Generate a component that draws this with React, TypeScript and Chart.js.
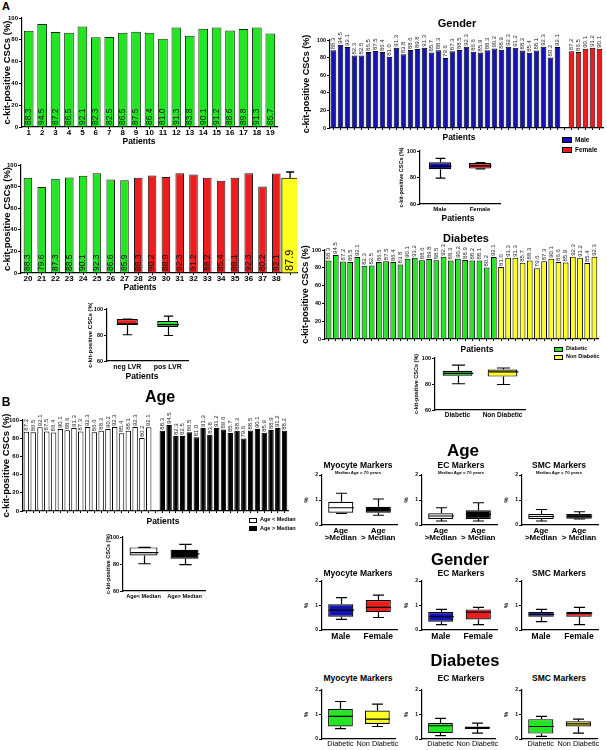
import React, { useEffect, useRef } from 'react';
import { Chart, registerables } from 'chart.js';

Chart.register(...registerables);

const FONT = "'Liberation Sans', Arial, Helvetica, sans-serif";

// ---------------- Panel A ----------------
const patientsA1 = ['1', '2', '3', '4', '5', '6', '7', '8', '9', '10', '11', '12', '13', '14', '15', '16', '17', '18', '19'];
const kitA1 = [88.3, 94.5, 87.2, 86.5, 92.1, 82.3, 82.5, 86.5, 87.5, 86.4, 81.0, 91.3, 83.8, 90.1, 91.2, 88.6, 89.8, 91.3, 85.7];
const patientsA2 = ['20', '21', '22', '23', '24', '25', '26', '27', '28', '29', '30', '31', '32', '33', '34', '35', '36', '37', '38', ''];
const kitA2 = [88.3, 79.6, 87.3, 88.5, 90.1, 92.3, 86.6, 85.9, 88.3, 90.2, 88.9, 92.3, 91.2, 88.2, 85.4, 88.1, 92.3, 80.2, 92.1];
const lvrA2 = ['pos', 'pos', 'pos', 'pos', 'pos', 'pos', 'pos', 'pos', 'neg', 'neg', 'neg', 'neg', 'neg', 'neg', 'neg', 'neg', 'neg', 'neg', 'neg'];
const kitMean = 87.9;
const kitMeanErr = 5.6;

const lvrCategories = ['neg LVR', 'pos LVR'];
const lvrNegBox = [80.2, 87.7, 88.5, 92.3, 92.3]; // min, q1, median, q3, max
const lvrPosBox = [79.6, 86.2, 88.0, 90.8, 94.5];

// ---------------- Gender ----------------
const maleKit = [88.3, 94.5, 92.1, 82.3, 82.5, 86.5, 87.5, 86.4, 81.0, 91.3, 83.8, 88.6, 89.8, 91.3, 85.7, 88.3, 79.6, 87.3, 88.5, 92.3, 86.6, 85.9, 88.3, 90.2, 88.9, 92.3, 91.2, 88.2, 85.4, 88.1, 92.3, 80.2, 92.1];
const femaleKit = [87.2, 86.5, 90.1, 91.2, 90.1];
const genderCategories = ['Male', 'Female'];
const maleBox = [79.6, 86.3, 88.6, 91.5, 94.5];
const femaleBox = [86.5, 86.7, 88.7, 91.0, 91.2];

// ---------------- Diabetes ----------------
const diabeticKit = [88.3, 94.5, 87.2, 86.5, 92.1, 82.3, 82.5, 86.5, 87.5, 86.4, 83.8, 90.1, 91.2, 88.6, 89.8, 88.5, 92.3, 88.3, 90.2, 88.9, 88.2, 88.1, 80.2, 92.1];
const nonDiabeticKit = [81.0, 91.3, 91.3, 85.7, 88.3, 79.6, 87.3, 90.1, 86.6, 85.9, 92.3, 91.2, 85.4, 92.3];
const diabetesCategories = ['Diabetic', 'Non Diabetic'];
const diabeticBox = [80.2, 86.4, 88.2, 90.1, 94.5];
const nonDiabeticBox = [79.6, 85.7, 89.4, 91.1, 92.3];

// ---------------- Age ----------------
const ageBelowKit = [87.2, 86.5, 92.1, 87.5, 86.4, 90.1, 88.6, 91.3, 87.3, 92.3, 86.6, 88.3, 90.2, 92.3, 85.4, 88.1, 92.3, 80.2, 92.1];
const ageAboveKit = [88.3, 94.5, 82.3, 82.5, 86.5, 81.0, 91.3, 83.8, 91.2, 89.6, 85.7, 88.3, 79.6, 88.5, 90.1, 85.9, 88.9, 91.2, 88.2];
const ageCategories = ['Age< Median', 'Age> Median'];
const ageBelowBox = [80.2, 86.3, 88.5, 92.3, 92.3];
const ageAboveBox = [79.6, 83.9, 87.5, 90.5, 94.5];

// ---------------- Marker box plots (min, q1, median, q3, max) ----------------
const markerAgeCats = [['Age', '>Median'], ['Age', '> Median']];
const ageMyoBelow = [0.46, 0.49, 0.69, 0.93, 1.27];
const ageMyoAbove = [0.39, 0.49, 0.6, 0.73, 1.04];
const ageEcBelow = [0.16, 0.24, 0.36, 0.47, 0.69];
const ageEcAbove = [0.16, 0.24, 0.42, 0.59, 0.89];
const ageSmcBelow = [0.16, 0.24, 0.34, 0.44, 0.62];
const ageSmcAbove = [0.24, 0.25, 0.35, 0.44, 0.53];

const markerGenderCats = ['Male', 'Female'];
const genMyoMale = [0.43, 0.54, 0.81, 1.05, 1.32];
const genMyoFemale = [0.51, 0.73, 0.92, 1.22, 1.42];
const genEcMale = [0.22, 0.34, 0.54, 0.73, 0.84];
const genEcFemale = [0.22, 0.43, 0.73, 0.84, 0.92];
const genSmcMale = [0.34, 0.54, 0.64, 0.73, 0.84];
const genSmcFemale = [0.22, 0.54, 0.68, 0.73, 0.92];

const markerDiabCats = ['Diabetic', 'Non Diabetic'];
const diaMyoYes = [0.42, 0.51, 0.92, 1.22, 1.53];
const diaMyoNo = [0.51, 0.61, 0.81, 1.16, 1.42];
const diaEcYes = [0.14, 0.24, 0.54, 0.65, 0.84];
const diaEcNo = [0.24, 0.41, 0.46, 0.51, 0.65];
const diaSmcYes = [0.11, 0.22, 0.51, 0.81, 0.92];
const diaSmcNo = [0.24, 0.51, 0.62, 0.72, 0.81];

// ---------------- colours ----------------
const GREEN = '#22e622';
const RED = '#ee1c1c';
const BLUE = '#1414b4';
const YELLOW = '#ffff22';
const WHITE = '#ffffff';
const BLACK = '#000000';

// ---------------- plugins ----------------
const valueLabelPlugin = {
  id: 'valueLabels',
  afterDatasetsDraw(chart: any) {
    const ctx = chart.ctx;
    chart.data.datasets.forEach((ds: any, di: number) => {
      const cfg = ds.valueLabel;
      if (!cfg) return;
      const meta = chart.getDatasetMeta(di);
      meta.data.forEach((el: any, i: number) => {
        const v = ds.data[i];
        if (v == null) return;
        const p = el.getProps(['x', 'y', 'base'], true);
        ctx.save();
        ctx.font = `${cfg.weight || 'normal'} ${cfg.size}px ${FONT}`;
        ctx.fillStyle = cfg.color || '#000';
        ctx.textAlign = 'left';
        ctx.textBaseline = 'middle';
        const y0 = cfg.mode === 'inside' ? p.base - cfg.offset : p.y - cfg.offset;
        ctx.translate(p.x, y0);
        ctx.rotate(-Math.PI / 2);
        ctx.fillText(Number(v).toFixed(1), 0, 0);
        ctx.restore();
      });
    });
  },
};

const errorBarPlugin = {
  id: 'errorBars',
  afterDatasetsDraw(chart: any) {
    const ctx = chart.ctx;
    const ys = chart.scales.y;
    chart.data.datasets.forEach((ds: any, di: number) => {
      if (!ds.errorPlus) return;
      const meta = chart.getDatasetMeta(di);
      meta.data.forEach((el: any, i: number) => {
        const v = ds.data[i];
        const e = ds.errorPlus[i];
        if (v == null || !e) return;
        const p = el.getProps(['x', 'y'], true);
        const yt = ys.getPixelForValue(v + e);
        ctx.save();
        ctx.strokeStyle = '#000';
        ctx.lineWidth = 1.3;
        ctx.beginPath();
        ctx.moveTo(p.x, p.y);
        ctx.lineTo(p.x, yt);
        ctx.moveTo(p.x - 4, yt);
        ctx.lineTo(p.x + 4, yt);
        ctx.stroke();
        ctx.restore();
      });
    });
  },
};

const boxPlugin = {
  id: 'boxWhiskers',
  afterDatasetsDraw(chart: any) {
    const ds = chart.data.datasets[0];
    const stats = ds.stats;
    const meta = chart.getDatasetMeta(0);
    const ys = chart.scales.y;
    const ctx = chart.ctx;
    ctx.save();
    ctx.strokeStyle = '#000';
    ctx.lineWidth = 1.2;
    meta.data.forEach((el: any, i: number) => {
      const s = stats[i];
      const p = el.getProps(['x', 'width'], true);
      const x = Math.round(p.x) + 0.5;
      const w = p.width;
      const cap = w * 0.22;
      const px = (v: number) => ys.getPixelForValue(v);
      ctx.beginPath();
      ctx.moveTo(x, px(s[3]));
      ctx.lineTo(x, px(s[4]));
      ctx.moveTo(x - cap, px(s[4]));
      ctx.lineTo(x + cap, px(s[4]));
      ctx.moveTo(x, px(s[1]));
      ctx.lineTo(x, px(s[0]));
      ctx.moveTo(x - cap, px(s[0]));
      ctx.lineTo(x + cap, px(s[0]));
      ctx.moveTo(x - w / 2, px(s[2]));
      ctx.lineTo(x + w / 2, px(s[2]));
      ctx.stroke();
    });
    ctx.restore();
  },
};

// ---------------- config builders ----------------
function yAxis(o: any) {
  return {
    min: o.min,
    max: o.max,
    ticks: { stepSize: o.step, font: { family: FONT, size: o.tickSize, weight: 'bold' }, color: '#000', padding: 1 },
    grid: { display: true, drawOnChartArea: false, drawTicks: true, tickLength: 3, color: '#000' },
    border: { display: true, color: '#000', width: 1.2 },
    title: {
      display: !!o.title,
      text: o.title,
      font: { family: FONT, size: o.titleSize, weight: 'bold', lineHeight: 1.2 },
      color: '#000',
      padding: { top: o.titlePad, bottom: 0 },
    },
    afterFit: (s: any) => {
      s.width = o.yW;
    },
  };
}

function barChart(o: any) {
  return {
    type: 'bar',
    data: { labels: o.labels, datasets: o.datasets },
    options: {
      responsive: false,
      animation: false,
      layout: { padding: { top: o.padTop, right: o.padRight, left: 0, bottom: 0 } },
      plugins: { legend: { display: false }, tooltip: { enabled: false }, title: { display: false } },
      scales: {
        x: {
          grid: { display: true, drawOnChartArea: false, drawTicks: true, tickLength: 2, color: '#000', offset: false },
          border: { display: true, color: '#000', width: 1.2 },
          ticks: o.xTickSize
            ? { display: true, font: { family: FONT, size: o.xTickSize, weight: 'bold', lineHeight: 1 }, color: '#000', padding: 0, maxRotation: 0, autoSkip: false }
            : { display: false },
          afterFit: (s: any) => {
            s.height = o.xH;
          },
        },
        y: yAxis({ min: 0, max: 100, step: 20, ...o.y }),
      },
    },
    plugins: [valueLabelPlugin, errorBarPlugin],
  };
}

function boxChart(o: any) {
  return {
    type: 'bar',
    data: {
      labels: o.labels,
      datasets: [
        {
          data: o.stats.map((s: number[]) => [s[1], s[3]]),
          stats: o.stats,
          backgroundColor: o.colors,
          borderColor: '#000',
          borderWidth: 1.2,
          borderSkipped: false,
          barPercentage: o.barPct,
          categoryPercentage: 1,
        },
      ],
    },
    options: {
      responsive: false,
      animation: false,
      layout: { padding: { top: o.padTop, right: o.padRight, left: 0, bottom: 0 } },
      plugins: { legend: { display: false }, tooltip: { enabled: false }, title: { display: false } },
      scales: {
        x: {
          grid: { display: false, drawTicks: false, tickLength: 0 },
          border: { display: true, color: '#000', width: 1.2 },
          ticks: {
            font: { family: FONT, size: o.xSize, weight: o.xWeight || 'bold', lineHeight: o.xLine || 1.2 },
            color: '#000',
            padding: o.xPad,
            maxRotation: 0,
            autoSkip: false,
          },
          afterFit: (s: any) => {
            s.height = o.xH;
          },
        },
        y: yAxis(o.y),
      },
    },
    plugins: [boxPlugin],
  };
}

const nulls = (a: any[]) => a.map(() => null);

// ---------------- chart list ----------------
type Spec = { rect: number[]; make: () => any };

function markerSpec(col: number, row: number, stats: number[][], colors: string[]): Spec {
  const x0 = [322, 422, 522][col];
  const pw = [75, 75, 76][col];
  const rows = [
    { top: 469, ph: 50, xH: 18, labels: markerAgeCats, xSize: 8, xLine: 0.9, xPad: 2, xWeight: 'bold' },
    { top: 575, ph: 49, xH: 12, labels: markerGenderCats, xSize: 8.5, xLine: 1.2, xPad: 2, xWeight: 'bold' },
    { top: 684, ph: 49, xH: 10, labels: markerDiabCats, xSize: 7.3, xLine: 1.1, xPad: 1, xWeight: 'normal' },
  ];
  const r = rows[row];
  const yW = 19;
  return {
    rect: [x0 - yW, r.top, pw + yW + 3, r.ph + 6 + r.xH],
    make: () =>
      boxChart({
        labels: r.labels,
        stats,
        colors,
        barPct: 0.67,
        padTop: 6,
        padRight: 3,
        xH: r.xH,
        xSize: r.xSize,
        xLine: r.xLine,
        xPad: r.xPad,
        xWeight: r.xWeight,
        y: { min: 0, max: 2, step: 1, yW, tickSize: 5, title: '%', titleSize: 6, titlePad: 0 },
      }),
  };
}

const specs: Spec[] = [
  // A1
  {
    rect: [0, 12, 280, 129],
    make: () =>
      barChart({
        labels: patientsA1,
        datasets: [
          {
            data: kitA1,
            backgroundColor: GREEN,
            borderColor: '#0a300a',
            borderWidth: 1,
            barPercentage: 0.72,
            categoryPercentage: 1,
            valueLabel: { mode: 'inside', size: 8.5, offset: 1.5, color: '#071f07' },
          },
        ],
        padTop: 6,
        padRight: 3,
        xH: 14,
        xTickSize: 8,
        y: { yW: 22, tickSize: 6, title: 'c-kit-positive CSCs (%)', titleSize: 9.5, titlePad: 2 },
      }),
  },
  // A2
  {
    rect: [0, 159, 300, 128],
    make: () =>
      barChart({
        labels: patientsA2,
        datasets: [
          {
            data: [...kitA2, null],
            backgroundColor: lvrA2.map((g) => (g === 'pos' ? GREEN : RED)),
            borderColor: '#1a1a1a',
            borderWidth: 1,
            barPercentage: 0.62,
            categoryPercentage: 1,
            grouped: false,
            valueLabel: { mode: 'inside', size: 8.5, offset: 1.5, color: '#0a0a0a' },
          },
          {
            data: [...nulls(kitA2), kitMean],
            backgroundColor: YELLOW,
            borderColor: '#1a1a1a',
            borderWidth: 1,
            barThickness: 17,
            grouped: false,
            errorPlus: [...nulls(kitA2), kitMeanErr],
            valueLabel: { mode: 'inside', size: 11, offset: 1.5, color: '#000' },
          },
        ],
        padTop: 6,
        padRight: 3,
        xH: 14,
        xTickSize: 8,
        y: { yW: 21, tickSize: 6, title: 'c-kit-positive CSCs (%)', titleSize: 9.5, titlePad: 2 },
      }),
  },
  // LVR box
  {
    rect: [87, 303, 104, 70],
    make: () =>
      boxChart({
        labels: lvrCategories,
        stats: [lvrNegBox, lvrPosBox],
        colors: [RED, GREEN],
        barPct: 0.52,
        padTop: 6,
        padRight: 3,
        xH: 12,
        xSize: 7,
        xPad: 2,
        y: { min: 60, max: 100, step: 20, yW: 20, tickSize: 5.5, title: 'c-kit-positive CSCs (%)', titleSize: 6, titlePad: 0 },
      }),
  },
  // Gender bars
  {
    rect: [300, 26, 305, 112],
    make: () =>
      barChart({
        labels: [...maleKit, null, ...femaleKit].map((_, i) => String(i + 1)),
        datasets: [
          {
            data: [...maleKit, null, ...femaleKit],
            backgroundColor: [...maleKit.map(() => BLUE), WHITE, ...femaleKit.map(() => RED)],
            borderColor: '#000',
            borderWidth: 1,
            barPercentage: 0.8,
            categoryPercentage: 1,
            valueLabel: { mode: 'above', size: 6, offset: 1, color: '#222' },
          },
        ],
        padTop: 14,
        padRight: 2,
        xH: 10,
        y: { yW: 30, tickSize: 5.5, title: 'c-kit-positive CSCs (%)', titleSize: 9, titlePad: 1.5 },
      }),
  },
  // Gender box
  {
    rect: [398, 145, 105, 71],
    make: () =>
      boxChart({
        labels: genderCategories,
        stats: [maleBox, femaleBox],
        colors: [BLUE, RED],
        barPct: 0.55,
        padTop: 6,
        padRight: 3,
        xH: 12,
        xSize: 6,
        xPad: 2,
        y: { min: 60, max: 100, step: 20, yW: 22, tickSize: 5.5, title: 'c-kit-positive CSCs (%)', titleSize: 5.5, titlePad: 0 },
      }),
  },
  // Diabetes bars
  {
    rect: [300, 237, 302, 112],
    make: () =>
      barChart({
        labels: [...diabeticKit, ...nonDiabeticKit].map((_, i) => String(i + 1)),
        datasets: [
          {
            data: [...diabeticKit, ...nonDiabeticKit],
            backgroundColor: [...diabeticKit.map(() => GREEN), ...nonDiabeticKit.map(() => YELLOW)],
            borderColor: '#000',
            borderWidth: 1,
            barPercentage: 0.8,
            categoryPercentage: 1,
            valueLabel: { mode: 'above', size: 6, offset: 1, color: '#222' },
          },
        ],
        padTop: 13,
        padRight: 4,
        xH: 10,
        y: { yW: 25, tickSize: 5.5, title: 'c-kit-positive CSCs (%)', titleSize: 9, titlePad: 0 },
      }),
  },
  // Diabetes box
  {
    rect: [413, 352, 115, 70],
    make: () =>
      boxChart({
        labels: diabetesCategories,
        stats: [diabeticBox, nonDiabeticBox],
        colors: [GREEN, YELLOW],
        barPct: 0.66,
        padTop: 6,
        padRight: 3,
        xH: 12,
        xSize: 6.5,
        xPad: 1,
        y: { min: 60, max: 100, step: 20, yW: 22, tickSize: 5.5, title: 'c-kit-positive CSCs (%)', titleSize: 5.5, titlePad: 0 },
      }),
  },
  // Age bars
  {
    rect: [0, 402, 291, 130],
    make: () =>
      barChart({
        labels: [...ageBelowKit, null, ...ageAboveKit].map((_, i) => String(i + 1)),
        datasets: [
          {
            data: [...ageBelowKit, null, ...ageAboveKit],
            backgroundColor: [...ageBelowKit.map(() => WHITE), WHITE, ...ageAboveKit.map(() => BLACK)],
            borderColor: '#000',
            borderWidth: 1,
            barPercentage: 0.8,
            categoryPercentage: 1,
            valueLabel: { mode: 'above', size: 6, offset: 1, color: '#222' },
          },
        ],
        padTop: 18,
        padRight: 3,
        xH: 21,
        y: { yW: 23, tickSize: 6, title: 'c-kit-positive CSCs (%)', titleSize: 9.5, titlePad: 0.5 },
      }),
  },
  // Age box
  {
    rect: [101, 531, 107, 72],
    make: () =>
      boxChart({
        labels: ageCategories,
        stats: [ageBelowBox, ageAboveBox],
        colors: [WHITE, BLACK],
        barPct: 0.68,
        padTop: 6,
        padRight: 3,
        xH: 12,
        xSize: 5.6,
        xPad: 2,
        y: { min: 60, max: 100, step: 20, yW: 22, tickSize: 5.5, title: 'c-kit-positive CSCs (%)', titleSize: 5.5, titlePad: 4 },
      }),
  },
  // markers - Age row
  markerSpec(0, 0, [ageMyoBelow, ageMyoAbove], [WHITE, BLACK]),
  markerSpec(1, 0, [ageEcBelow, ageEcAbove], [WHITE, BLACK]),
  markerSpec(2, 0, [ageSmcBelow, ageSmcAbove], [WHITE, BLACK]),
  // Gender row
  markerSpec(0, 1, [genMyoMale, genMyoFemale], [BLUE, RED]),
  markerSpec(1, 1, [genEcMale, genEcFemale], [BLUE, RED]),
  markerSpec(2, 1, [genSmcMale, genSmcFemale], [BLUE, RED]),
  // Diabetes row
  markerSpec(0, 2, [diaMyoYes, diaMyoNo], [GREEN, YELLOW]),
  markerSpec(1, 2, [diaEcYes, diaEcNo], [GREEN, YELLOW]),
  markerSpec(2, 2, [diaSmcYes, diaSmcNo], [GREEN, YELLOW]),
];

// ---------------- components ----------------
function ChartCanvas({ spec }: { spec: Spec }) {
  const ref = useRef<HTMLCanvasElement>(null);
  useEffect(() => {
    const chart = new Chart(ref.current as HTMLCanvasElement, spec.make());
    return () => chart.destroy();
  }, []);
  const [l, t, w, h] = spec.rect;
  return (
    <canvas
      ref={ref}
      width={w}
      height={h}
      style={{ position: 'absolute', left: l, top: t, width: w, height: h, display: 'block' }}
    />
  );
}

function Txt({ x, y, size, text, bold = true, align = 'center' }: any) {
  return (
    <div
      style={{
        position: 'absolute',
        left: x,
        top: y,
        transform: align === 'center' ? 'translate(-50%,-50%)' : 'translate(0,-50%)',
        fontSize: size,
        fontWeight: bold ? 700 : 400,
        fontFamily: FONT,
        whiteSpace: 'nowrap',
        lineHeight: 1,
        color: '#000',
      }}
    >
      {text}
    </div>
  );
}

function LegendItem({ x, y, w, h, color, text, size }: any) {
  return (
    <>
      <div
        style={{
          position: 'absolute',
          left: x,
          top: y - h / 2,
          width: w,
          height: h,
          background: color,
          border: '1px solid #000',
          boxSizing: 'border-box',
        }}
      />
      <Txt x={x + w + 3} y={y} size={size} text={text} align="left" />
    </>
  );
}

export default function App() {
  return (
    <div style={{ position: 'absolute', left: 0, top: 0, width: 607, height: 750, background: '#fff', overflow: 'hidden', fontFamily: FONT }}>
      {specs.map((s, i) => (
        <ChartCanvas key={i} spec={s} />
      ))}
      <Txt x={6} y={6} size={11} text="A" />
      <Txt x={139} y={141} size={8.5} text="Patients" />
      <Txt x={140} y={287} size={8.5} text="Patients" />
      <Txt x={142} y={376} size={8.5} text="Patients" />

      <Txt x={457} y={23} size={11} text="Gender" />
      <Txt x={459} y={137} size={8.5} text="Patients" />
      <LegendItem x={562} y={140} w={10} h={6} color={BLUE} text="Male" size={6.5} />
      <LegendItem x={562} y={150} w={10} h={6} color={RED} text="Female" size={6.5} />
      <Txt x={458} y={218} size={8.5} text="Patients" />

      <Txt x={466} y={237.5} size={11} text="Diabetes" />
      <Txt x={477} y={349} size={8.5} text="Patients" />
      <LegendItem x={554} y={349} w={9} h={5} color={GREEN} text="Diabetic" size={5.5} />
      <LegendItem x={554} y={357} w={9} h={5} color={YELLOW} text="Non Diabetic" size={5.5} />

      <Txt x={6} y={402} size={12} text="B" />
      <Txt x={160} y={397} size={16} text="Age" />
      <Txt x={163} y={521} size={8.5} text="Patients" />
      <LegendItem x={249} y={520} w={8} h={5} color={WHITE} text="Age < Median" size={5.5} />
      <LegendItem x={249} y={528.5} w={8} h={5} color={BLACK} text="Age > Median" size={5.5} />

      <Txt x={463} y={450} size={17} text="Age" />
      <Txt x={358} y={465} size={8.5} text="Myocyte Markers" />
      <Txt x={461} y={465} size={8.5} text="EC Markers" />
      <Txt x={559} y={465} size={8.5} text="SMC Markers" />
      <Txt x={358} y={472.5} size={4.3} text="Median Age = 70 years" />
      <Txt x={461} y={472.5} size={4.3} text="Median Age = 70 years" />
      <Txt x={559} y={472.5} size={4.3} text="Median Age = 70 years" />

      <Txt x={460} y={559} size={16.5} text="Gender" />
      <Txt x={358} y={573} size={8.5} text="Myocyte Markers" />
      <Txt x={461} y={573} size={8.5} text="EC Markers" />
      <Txt x={559} y={573} size={8.5} text="SMC Markers" />

      <Txt x={465} y={660} size={16.5} text="Diabetes" />
      <Txt x={358} y={678} size={8.5} text="Myocyte Markers" />
      <Txt x={461} y={678} size={8.5} text="EC Markers" />
      <Txt x={559} y={678} size={8.5} text="SMC Markers" />
    </div>
  );
}
